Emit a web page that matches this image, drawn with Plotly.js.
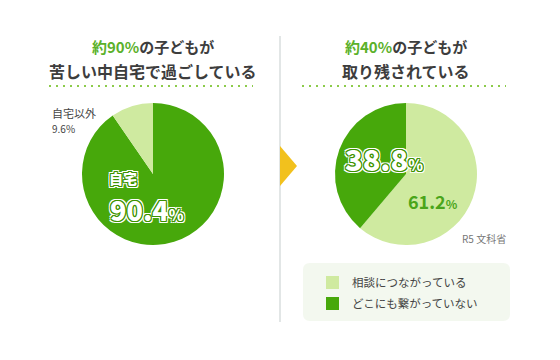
<!DOCTYPE html>
<html>
<head>
<meta charset="utf-8">
<script src="https://cdn.plot.ly/plotly-3.0.1.min.js"></script>
<style>html,body{margin:0;padding:0;background:#fff;}</style>
</head>
<body>
<div id="chart" style="width:560px;height:360px;"></div>
<script>
// ---- data ----
const leftLabels = ["自宅", "自宅以外"];
const leftValues = [90.4, 9.6];
const rightLabels = ["相談につながっている", "どこにも繋がっていない"];
const rightValues = [61.2, 38.8];
const leftTitle1 = ["約90%", "の子どもが"];
const leftTitle2 = "苦しい中自宅で過ごしている";
const rightTitle1 = ["約40%", "の子どもが"];
const rightTitle2 = "取り残されている";
const sourceText = "R5 文科省";

const DARK = "#47a80b";
const LIGHT = "#cfeaa0";
const FONT = "'Noto Sans CJK JP', 'Noto Sans', sans-serif";
const W = 560, H = 360;
const px = x => x / W;
const py = y => 1 - y / H;

const outline = "1px 0 0 #3d9200, -1px 0 0 #3d9200, 0 1px 0 #3d9200, 0 -1px 0 #3d9200, 1px 1px 0 #3d9200, -1px -1px 0 #3d9200, 1px -1px 0 #3d9200, -1px 1px 0 #3d9200, 2px 0 0 #fff, -2px 0 0 #fff, 0 2px 0 #fff, 0 -2px 0 #fff, 2px 2px 0 #fff, -2px -2px 0 #fff, 2px -2px 0 #fff, -2px 2px 0 #fff";

const traces = [
  {
    type: "pie", labels: leftLabels, values: leftValues, sort: false,
    direction: "clockwise", rotation: 0, textinfo: "none", hoverinfo: "skip",
    marker: {colors: [DARK, LIGHT], line: {width: 0}},
    domain: {x: [px(82), px(224)], y: [py(246), py(102)]},
    showlegend: false
  },
  {
    type: "pie", labels: rightLabels, values: rightValues, sort: false,
    direction: "clockwise", rotation: 0, textinfo: "none", hoverinfo: "skip",
    marker: {colors: [LIGHT, DARK], line: {width: 0}},
    domain: {x: [px(335), px(477)], y: [py(246), py(102)]},
    showlegend: false
  }
];

function ann(x, y, text, opts) {
  return Object.assign({
    xref: "paper", yref: "paper", x: px(x), y: py(y), text: text,
    showarrow: false, xanchor: "center", yanchor: "middle",
    font: {family: FONT, size: 12, color: "#3a3a3a"}
  }, opts || {});
}

const titleFont = {family: FONT, size: 15, color: "#3d3d3d", weight: 700};

const annotations = [
  ann(153, 47, `<span style="color:#5bb12a">${leftTitle1[0]}</span>${leftTitle1[1]}`, {font: titleFont}),
  ann(153, 71, leftTitle2, {font: Object.assign({}, titleFont, {size: 16})}),
  ann(406, 47, `<span style="color:#5bb12a">${rightTitle1[0]}</span>${rightTitle1[1]}`, {font: titleFont}),
  ann(406, 71, rightTitle2, {font: Object.assign({}, titleFont, {size: 16})}),
  ann(50, 113, leftLabels[1], {xanchor: "left", font: {family: FONT, size: 11, color: "#444"}}),
  ann(50, 128, leftValues[1].toFixed(1) + "%", {xanchor: "left", font: {family: FONT, size: 10, color: "#444"}}),
  ann(107, 178, leftLabels[0], {xanchor: "left", font: {family: FONT, size: 14, color: "#fff", weight: 900, shadow: outline}}),
  ann(108, 209, leftValues[0].toFixed(1) + '<span style="font-size:15px">%</span>', {xanchor: "left", font: {family: FONT, size: 27, color: "#fff", weight: 900, shadow: outline}}),
  ann(343, 158, rightValues[1].toFixed(1) + '<span style="font-size:15px">%</span>', {xanchor: "left", font: {family: FONT, size: 29, color: "#fff", weight: 900, shadow: outline}}),
  ann(406, 201, rightValues[0].toFixed(1) + '<span style="font-size:12px">%</span>', {xanchor: "left", font: {family: FONT, size: 18, color: "#4aa51a", weight: 700}}),
  ann(460, 238, sourceText, {xanchor: "left", font: {family: FONT, size: 10, color: "#777"}}),
  ann(350, 282, rightLabels[0], {xanchor: "left", font: {family: FONT, size: 11.5, color: "#444"}}),
  ann(350, 303, rightLabels[1], {xanchor: "left", font: {family: FONT, size: 11.5, color: "#444"}})
];

// rounded rect path in paper coords
function roundRect(x0, y0, x1, y1, r) {
  const X = v => px(v), Y = v => py(v);
  return `M ${X(x0 + r)} ${Y(y0)} L ${X(x1 - r)} ${Y(y0)} Q ${X(x1)} ${Y(y0)} ${X(x1)} ${Y(y0 + r)} ` +
         `L ${X(x1)} ${Y(y1 - r)} Q ${X(x1)} ${Y(y1)} ${X(x1 - r)} ${Y(y1)} ` +
         `L ${X(x0 + r)} ${Y(y1)} Q ${X(x0)} ${Y(y1)} ${X(x0)} ${Y(y1 - r)} ` +
         `L ${X(x0)} ${Y(y0 + r)} Q ${X(x0)} ${Y(y0)} ${X(x0 + r)} ${Y(y0)} Z`;
}

const shapes = [
  {type: "line", xref: "paper", yref: "paper", x0: px(49), x1: px(253), y0: py(86), y1: py(86),
   line: {color: "#8ccb4a", width: 2, dash: "2px,5px"}},
  {type: "line", xref: "paper", yref: "paper", x0: px(302), x1: px(506), y0: py(86), y1: py(86),
   line: {color: "#8ccb4a", width: 2, dash: "2px,5px"}},
  {type: "line", xref: "paper", yref: "paper", x0: px(280), x1: px(280), y0: py(36), y1: py(322),
   line: {color: "#e2e6e6", width: 2}},
  {type: "path", xref: "paper", yref: "paper",
   path: `M ${px(280)} ${py(146)} L ${px(297)} ${py(166)} L ${px(280)} ${py(186)} Z`,
   fillcolor: "#f2c11d", line: {width: 0}},
  {type: "path", xref: "paper", yref: "paper", path: roundRect(303, 263, 510, 321, 7),
   fillcolor: "#f3f8ef", line: {width: 0}, layer: "below"},
  {type: "rect", xref: "paper", yref: "paper", x0: px(326), x1: px(339), y0: py(276), y1: py(289),
   fillcolor: LIGHT, line: {width: 0}},
  {type: "rect", xref: "paper", yref: "paper", x0: px(326), x1: px(339), y0: py(297), y1: py(310),
   fillcolor: DARK, line: {width: 0}}
];

const layout = {
  width: W, height: H,
  margin: {l: 0, r: 0, t: 0, b: 0},
  paper_bgcolor: "#fff", plot_bgcolor: "#fff",
  showlegend: false,
  annotations: annotations,
  shapes: shapes,
  font: {family: FONT}
};

Plotly.newPlot("chart", traces, layout, {displayModeBar: false, staticPlot: true});
</script>
</body>
</html>
